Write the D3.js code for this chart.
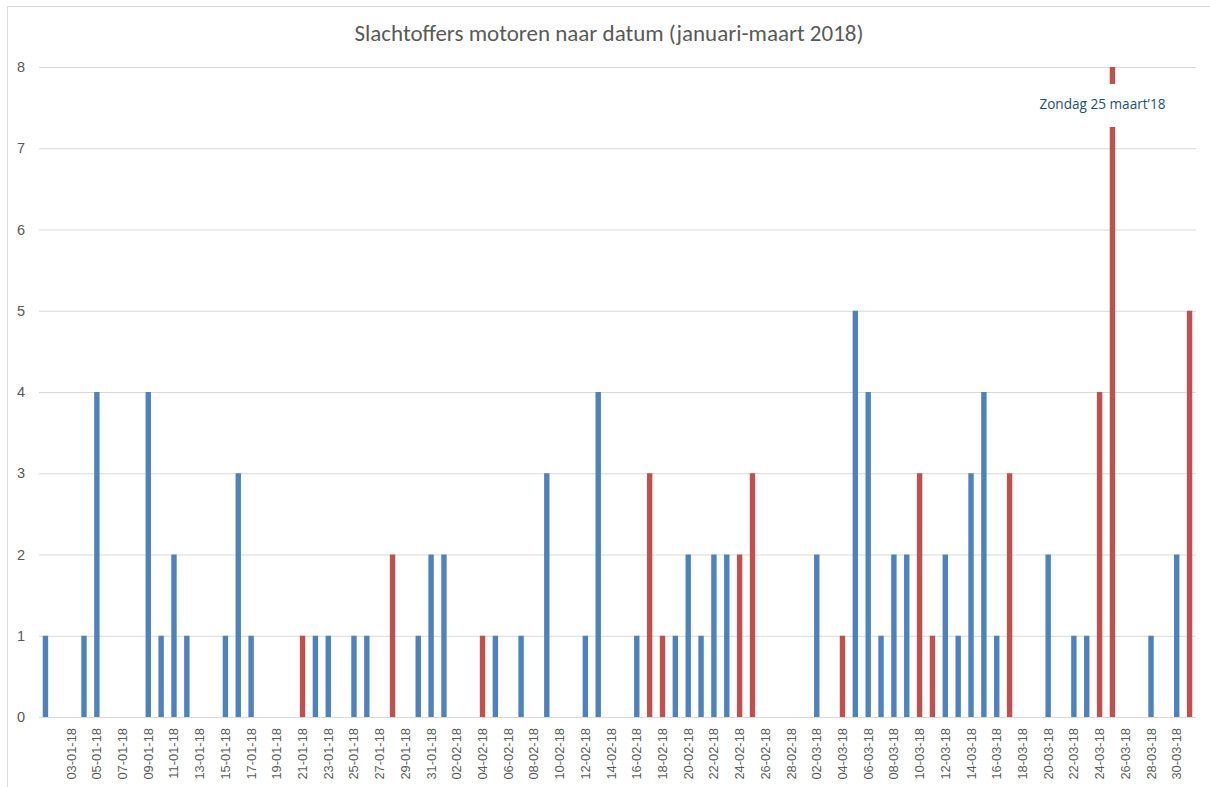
<!DOCTYPE html>
<html>
<head>
<meta charset="utf-8">
<title>Slachtoffers motoren naar datum</title>
<script src="https://cdn.jsdelivr.net/npm/d3@7"></script>
<style>
  html,body{margin:0;background:#fff}
  svg{display:block;font-family:Carlito,"Open Sans",sans-serif}
  .grid line{stroke:#d9d9d9;stroke-width:1}
  .tick text{fill:#595959}
</style>
</head>
<body>
<svg width="1210" height="787"></svg>
<script>
// --- data -------------------------------------------------
const dates = [
  '01-01-18','02-01-18','03-01-18','04-01-18','05-01-18','06-01-18','07-01-18','08-01-18','09-01-18','10-01-18',
  '11-01-18','12-01-18','13-01-18','14-01-18','15-01-18','16-01-18','17-01-18','18-01-18','19-01-18','20-01-18',
  '21-01-18','22-01-18','23-01-18','24-01-18','25-01-18','26-01-18','27-01-18','28-01-18','29-01-18','30-01-18',
  '31-01-18','01-02-18','02-02-18','03-02-18','04-02-18','05-02-18','06-02-18','07-02-18','08-02-18','09-02-18',
  '10-02-18','11-02-18','12-02-18','13-02-18','14-02-18','15-02-18','16-02-18','17-02-18','18-02-18','19-02-18',
  '20-02-18','21-02-18','22-02-18','23-02-18','24-02-18','25-02-18','26-02-18','27-02-18','28-02-18','01-03-18',
  '02-03-18','03-03-18','04-03-18','05-03-18','06-03-18','07-03-18','08-03-18','09-03-18','10-03-18','11-03-18',
  '12-03-18','13-03-18','14-03-18','15-03-18','16-03-18','17-03-18','18-03-18','19-03-18','20-03-18','21-03-18',
  '22-03-18','23-03-18','24-03-18','25-03-18','26-03-18','27-03-18','28-03-18','29-03-18','30-03-18','31-03-18'
];
// slachtoffers per dag
const slachtoffers = [
  1,0,0,1,4,0,0,0,4,1,
  2,1,0,0,1,3,1,0,0,0,
  1,1,1,0,1,1,0,2,0,1,
  2,2,0,0,1,1,0,1,0,3,
  0,0,1,4,0,0,1,3,1,1,
  2,1,2,2,2,3,0,0,0,0,
  2,0,1,5,4,1,2,2,3,1,
  2,1,3,4,1,3,0,0,2,0,
  1,1,4,8,0,0,1,0,2,5
];
// weekenddagen (za/zo) in rood
const weekendDagen = ['20-01-18','21-01-18','27-01-18','28-01-18','03-02-18','04-02-18','10-02-18','11-02-18',
  '17-02-18','18-02-18','24-02-18','25-02-18','03-03-18','04-03-18','10-03-18','11-03-18','17-03-18','18-03-18',
  '24-03-18','25-03-18','31-03-18'];
const yTicks = [0,1,2,3,4,5,6,7,8];
const xLabels = dates.filter((d,i)=>i%2===0 && i>0);
const title = 'Slachtoffers motoren naar datum (januari-maart 2018)';
const note = {date:'25-03-18', text:'Zondag 25 maart\u201918'};

// --- chart ------------------------------------------------
const svg = d3.select('svg');
const mLeft = 39, mRight = 1196, mTop = 67, mBottom = 717;

const x = d3.scaleBand().domain(dates).range([mLeft,mRight]).paddingInner(0).paddingOuter(0);
const y = d3.scaleLinear().domain([0,8]).range([mBottom,mTop]);
const barW = 5.4;

// border (only left/top visible in crop)
svg.append('path')
  .attr('d','M7.5,787 V6.5 H1210')
  .attr('fill','none').attr('stroke','#d9d9d9');

svg.append('text')
  .attr('x',609).attr('y',41)
  .attr('text-anchor','middle')
  .attr('font-size',23).attr('fill','#595959')
  .text(title);

// gridlines + y labels
const yAxis = svg.append('g')
  .attr('class','grid')
  .attr('transform',`translate(${mLeft},0)`)
  .call(d3.axisLeft(y).tickValues(yTicks).tickSize(-(mRight-mLeft)).tickPadding(14).tickFormat(d3.format('d')));
yAxis.select('.domain').remove();
yAxis.selectAll('.tick text').attr('font-size',14.5).attr('x',-14);

// bars
svg.append('g')
  .selectAll('rect')
  .data(dates.map((d,i)=>({d, v:slachtoffers[i]})).filter(o=>o.v>0))
  .join('rect')
  .attr('x',o=>x(o.d)+x.bandwidth()/2-barW/2)
  .attr('width',barW)
  .attr('y',o=>y(o.v))
  .attr('height',o=>y(0)-y(o.v))
  .attr('fill',o=>weekendDagen.includes(o.d)?'#c0504d':'#4f81bd');

// x labels
const xAxis = svg.append('g')
  .attr('transform',`translate(0,${mBottom})`)
  .call(d3.axisBottom(x).tickValues(xLabels).tickSize(0).tickPadding(0));
xAxis.select('.domain').remove();
xAxis.selectAll('.tick text')
  .attr('font-size',12.9)
  .attr('text-anchor','end')
  .attr('transform','rotate(-90)')
  .attr('x',-11).attr('y',0).attr('dy','0.35em');

// annotation
const nx = x(note.date)+x.bandwidth()/2;
svg.append('rect')
  .attr('x',nx-76).attr('y',84).attr('width',140).attr('height',43)
  .attr('fill','#fff');
svg.append('text')
  .attr('x',nx-10).attr('y',109)
  .attr('text-anchor','middle')
  .attr('font-family','"Open Sans",sans-serif')
  .attr('font-size',13.6).attr('fill','#1f5170')
  .text(note.text);
</script>
</body>
</html>
